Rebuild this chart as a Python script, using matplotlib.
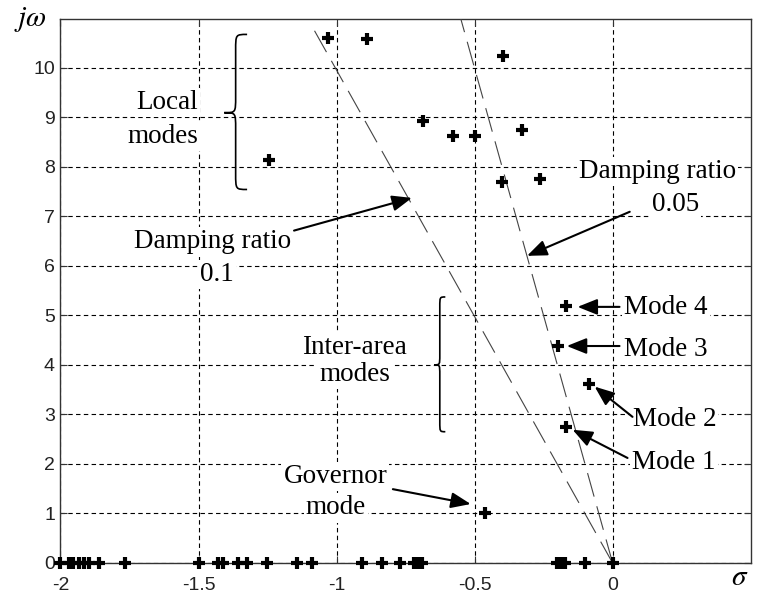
import numpy as np
import matplotlib
matplotlib.use('Agg')
import matplotlib.pyplot as plt
from matplotlib.path import Path
from matplotlib.patches import PathPatch

# eigenvalues with non-zero imaginary part (sigma, omega)
osc_real = [-1.03, -0.891, -0.397, -0.688, -0.58, -0.499, -0.330, -1.243, -0.399, -0.264,
            -0.168, -0.198, -0.087, -0.170, -0.461]
osc_imag = [10.60, 10.57, 10.24, 8.92, 8.61, 8.61, 8.75, 8.13, 7.70, 7.75,
            5.18, 4.38, 3.61, 2.75, 1.00]

# real eigenvalues sitting on the sigma axis
real_only = [-2.0, -1.97, -1.953, -1.934, -1.916, -1.898, -1.862, -1.766, -1.5, -1.428,
             -1.41, -1.356, -1.325, -1.251, -1.144, -1.09, -0.909, -0.837, -0.771, -0.72,
             -0.705, -0.69, -0.2, -0.187, -0.174, -0.101, 0.0]

damping_ratios = [0.1, 0.05]
damping_wmax = [10.8, 11.5]

xticks = [-2, -1.5, -1, -0.5, 0]
yticks = list(range(0, 11))

SERIF = 'Liberation Serif'
FS = 19.5


def brace(ax, x_tip, y_mid, y_top, y_bot, width, k):
    xc = x_tip + width * 0.5
    xr = x_tip + width
    verts = [(xr, y_top), (xc, y_top), (xc, y_top), (xc, y_top - k),
             (xc, y_mid + k),
             (xc, y_mid), (xc, y_mid), (x_tip, y_mid),
             (xc, y_mid), (xc, y_mid), (xc, y_mid - k),
             (xc, y_bot + k),
             (xc, y_bot), (xc, y_bot), (xr, y_bot)]
    codes = [Path.MOVETO, Path.CURVE4, Path.CURVE4, Path.CURVE4,
             Path.LINETO,
             Path.CURVE4, Path.CURVE4, Path.CURVE4,
             Path.CURVE4, Path.CURVE4, Path.CURVE4,
             Path.LINETO,
             Path.CURVE4, Path.CURVE4, Path.CURVE4]
    ax.add_patch(PathPatch(Path(verts, codes), fc='none', ec='k', lw=1.2, zorder=4))


def label(ax, x, y, s):
    ax.text(x, y, s, family=SERIF, fontsize=FS, ha='center', va='center', zorder=5,
            bbox=dict(facecolor='white', edgecolor='none', pad=1.5))


def arrow(ax, start, tip):
    ax.annotate('', xy=tip, xytext=start, zorder=6,
                arrowprops=dict(arrowstyle='-|>,head_length=0.6,head_width=0.24',
                                color='k', lw=1.5, mutation_scale=20,
                                shrinkA=0, shrinkB=0))


fig = plt.figure(figsize=(7.59, 5.96), dpi=100)
ax = fig.add_axes([0.0797, 0.0554, 0.9093, 0.9126])

ax.set_xlim(-2, 0.5)
ax.set_ylim(0, 10.98)
ax.set_xticks(xticks)
ax.set_xticklabels(['-2', '-1.5', '-1', '-0.5', '0'])
ax.set_yticks(yticks)
ax.tick_params(direction='in', length=5, width=0.8, top=True, right=True,
               labelsize=14, colors='#333333', labelcolor='#222222')
ax.tick_params(axis='x', pad=10)
ax.tick_params(axis='y', pad=4)
for lab in ax.get_xticklabels() + ax.get_yticklabels():
    lab.set_family('Liberation Sans')
for sp in ax.spines.values():
    sp.set_color('#333333')
    sp.set_linewidth(1.0)

ax.grid(True, color='k', linestyle=(0, (4, 3)), linewidth=0.8)
ax.set_axisbelow(True)

# constant damping lines through the origin
for zeta, wmax in zip(damping_ratios, damping_wmax):
    w = np.array([0.0, wmax])
    s = -zeta * w / np.sqrt(1 - zeta ** 2)
    ax.plot(s, w, color='#444444', lw=0.8, linestyle=(0, (22, 9)), zorder=3)

ax.plot(osc_real, osc_imag, linestyle='none', marker='+', ms=9, mew=3, color='k', zorder=7)
ax.plot(real_only, np.zeros(len(real_only)), linestyle='none', marker='+', ms=9, mew=3,
        color='k', zorder=7, clip_on=False)

brace(ax, -1.407, 9.09, 10.67, 7.54, 0.083, 0.32)
brace(ax, -0.646, 4.0, 5.37, 2.65, 0.04, 0.2)

label(ax, -1.614, 9.29, 'Local')
label(ax, -1.628, 8.61, 'modes')
label(ax, -0.935, 4.36, 'Inter-area')
label(ax, -0.935, 3.80, 'modes')
label(ax, -1.004, 1.74, 'Governor')
label(ax, -1.002, 1.11, 'mode')
label(ax, -1.449, 6.48, 'Damping ratio')
label(ax, -1.433, 5.82, '0.1')
label(ax, 0.163, 7.90, 'Damping ratio')
label(ax, 0.228, 7.23, '0.05')
label(ax, 0.194, 5.15, 'Mode 4')
label(ax, 0.192, 4.30, 'Mode 3')
label(ax, 0.224, 2.89, 'Mode 2')
label(ax, 0.221, 2.02, 'Mode 1')

arrow(ax, (0.025, 5.17), (-0.127, 5.17))
arrow(ax, (0.025, 4.38), (-0.166, 4.38))
arrow(ax, (0.072, 2.95), (-0.065, 3.56))
arrow(ax, (0.054, 2.12), (-0.145, 2.69))
arrow(ax, (-0.796, 1.49), (-0.514, 1.19))
arrow(ax, (-1.154, 6.71), (-0.727, 7.37))
arrow(ax, (0.062, 7.09), (-0.310, 6.20))

fig.text(0.04, 0.968, r'$j\omega$', fontsize=21, ha='center', va='center',
         family=SERIF, math_fontfamily='stix')
fig.text(0.975, 0.03, r'$\sigma$', fontsize=21, ha='center', va='center',
         family=SERIF, math_fontfamily='stix')

fig.savefig('out.png', dpi=100)
